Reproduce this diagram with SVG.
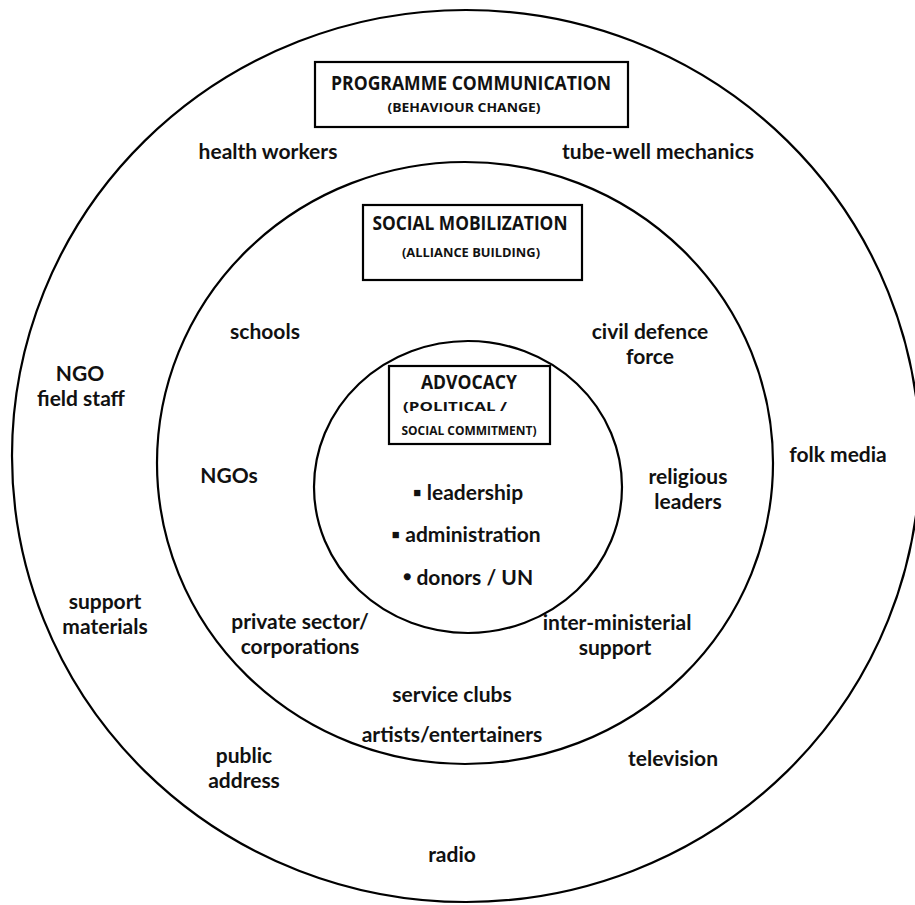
<svg xmlns="http://www.w3.org/2000/svg" width="915" height="905" viewBox="0 0 915 905">
<style>
.ring{fill:none;stroke:#000;stroke-width:2.2}
.box{fill:#fff;stroke:#000;stroke-width:2.2}
.t{font-family:Lato,"Open Sans","Liberation Sans",sans-serif;font-size:21px;font-weight:bold;fill:#111;text-anchor:middle}
.h{font-family:"Open Sans","Liberation Sans",sans-serif;font-size:19px;font-weight:bold;fill:#111;text-anchor:middle}
.s{font-family:"Open Sans","Liberation Sans",sans-serif;font-size:12px;font-weight:bold;fill:#111;text-anchor:middle}
.s2{font-family:"Open Sans","Liberation Sans",sans-serif;font-size:13px;font-weight:bold;fill:#111;text-anchor:middle}
.b{font-size:14px}
</style>
<rect width="915" height="905" fill="#fff"/>
<g id="rings">
<ellipse class="ring" cx="466" cy="456" rx="454" ry="446"/>
<ellipse class="ring" cx="465" cy="463" rx="308" ry="301"/>
<ellipse class="ring" cx="468" cy="487" rx="154" ry="146"/>
</g>
<g id="programme-communication">
<rect class="box" x="315" y="62" width="313" height="65"/>
<text class="h" x="471" y="90" textLength="280" lengthAdjust="spacingAndGlyphs">PROGRAMME COMMUNICATION</text>
<text class="s" x="464" y="112" textLength="153" lengthAdjust="spacingAndGlyphs">(BEHAVIOUR CHANGE)</text>
</g>
<g id="social-mobilization">
<rect class="box" x="363" y="205" width="219" height="75"/>
<text class="h" x="470" y="230" textLength="195" lengthAdjust="spacingAndGlyphs">SOCIAL MOBILIZATION</text>
<text class="s" x="471" y="257" textLength="138" lengthAdjust="spacingAndGlyphs">(ALLIANCE BUILDING)</text>
</g>
<g id="advocacy">
<rect class="box" x="389" y="366" width="161" height="78"/>
<text class="h" x="469" y="389" textLength="96" lengthAdjust="spacingAndGlyphs">ADVOCACY</text>
<text class="s2" x="455" y="411" textLength="104" lengthAdjust="spacingAndGlyphs">(POLITICAL /</text>
<text class="s2" x="469" y="435" textLength="135" lengthAdjust="spacingAndGlyphs">SOCIAL COMMITMENT)</text>
<text class="t" x="468" y="500">▪ leadership</text>
<text class="t" x="466" y="542">▪ administration</text>
<text class="t" x="468" y="585"><tspan class="b" dy="-4">●</tspan><tspan dy="4"> donors / UN</tspan></text>
</g>
<g id="outer-labels">
<text class="t" x="268" y="159">health workers</text>
<text class="t" x="658" y="159">tube-well mechanics</text>
<text class="t" x="80" y="381">NGO</text>
<text class="t" x="81" y="406">field staff</text>
<text class="t" x="838" y="462">folk media</text>
<text class="t" x="105" y="609">support</text>
<text class="t" x="105" y="634">materials</text>
<text class="t" x="244" y="763">public</text>
<text class="t" x="244" y="788">address</text>
<text class="t" x="673" y="766">television</text>
<text class="t" x="452" y="862">radio</text>
</g>
<g id="middle-labels">
<text class="t" x="265" y="339">schools</text>
<text class="t" x="650" y="339">civil defence</text>
<text class="t" x="650" y="364">force</text>
<text class="t" x="229" y="483">NGOs</text>
<text class="t" x="688" y="484">religious</text>
<text class="t" x="688" y="509">leaders</text>
<text class="t" x="300" y="629">private sector/</text>
<text class="t" x="300" y="654">corporations</text>
<text class="t" x="617" y="630">inter-ministerial</text>
<text class="t" x="615" y="655">support</text>
<text class="t" x="452" y="702">service clubs</text>
<text class="t" x="452" y="742">artists/entertainers</text>
</g>
</svg>
